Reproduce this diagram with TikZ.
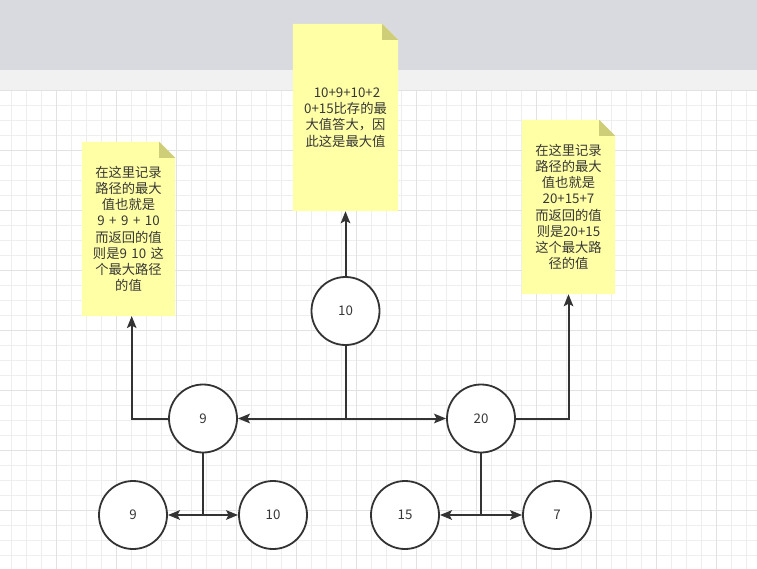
\documentclass[tikz,border=0pt]{standalone}
\usepackage{fontspec}
\newfontfamily\cjk{Noto Sans CJK SC}
\usetikzlibrary{arrows.meta,calc,backgrounds}
\definecolor{bandgray}{RGB}{217,218,223}
\definecolor{stripgray}{RGB}{241,241,241}
\definecolor{gridminor}{RGB}{238,238,238}
\definecolor{gridmajor}{RGB}{226,226,226}
\definecolor{notefill}{RGB}{255,255,166}
\definecolor{notefold}{RGB}{206,206,120}
\definecolor{ink}{RGB}{51,51,51}
\definecolor{txt}{RGB}{55,55,55}
\newcommand{\wsp}{\hspace{4.5pt}}
\tikzset{
  every node/.style={font=\cjk\fontsize{13.3}{16.2}\selectfont, text=txt},
  numcircle/.style={circle, draw=ink, line width=1.8pt, fill=white, minimum size=68pt, inner sep=0pt},
  notebox/.style={rectangle, draw=none, inner sep=0pt, align=center},
  arr/.style={draw=ink, line width=2pt, -{Stealth[length=12pt,width=9.5pt,inset=2.5pt]}},
  notebg/.style={fill=notefill},
  foldbg/.style={fill=notefold}
}
\newcommand{\notefill}[1]{%
  \fill[notebg] (#1.south west) -- (#1.north west) -- ($(#1.north east)+(-16,0)$) -- ($(#1.north east)+(0,16)$) -- (#1.south east) -- cycle;
  \fill[foldbg] ($(#1.north east)+(-16,0)$) -- ($(#1.north east)+(-16,16)$) -- ($(#1.north east)+(0,16)$) -- cycle;
}
\begin{document}
\begin{tikzpicture}[x=1pt,y=-1pt]
\useasboundingbox (0,0) rectangle (757,569);
\begin{scope}[on background layer]
  \fill[white] (0,0) rectangle (757,569);
  \fill[bandgray] (0,0) rectangle (757,70);
  \fill[stripgray] (0,70) rectangle (757,90);
  \foreach \i in {0,...,49} {
    \draw[gridminor, line width=0.8pt] ({11.7+15*\i},90) -- ({11.7+15*\i},569);
  }
  \foreach \i in {0,...,31} {
    \draw[gridminor, line width=0.8pt] (0,{105.7+15*\i}) -- (757,{105.7+15*\i});
  }
  \foreach \i in {0,...,12} {
    \draw[gridmajor, line width=0.8pt] ({-3.3+60*\i},90) -- ({-3.3+60*\i},569);
  }
  \foreach \i in {0,...,8} {
    \draw[gridmajor, line width=0.8pt] (0,{90.7+60*\i}) -- (757,{90.7+60*\i});
  }
\end{scope}

% notes
\node[notebox, minimum width=105pt, minimum height=187pt] (nM) at (345.5,117.5)
  {\hspace*{3pt}10+9+10+2\\0+15比存的最\\大值答大，因\\此这是最大值};
\node[notebox, minimum width=93pt, minimum height=174pt] (nL) at (128.5,229)
  {在这里记录\\路径的最大\\值也就是\\9\wsp{}+\wsp{}9\wsp{}+\wsp{}10\\而返回的值\\则是9\wsp{}10\wsp{}这\\个最大路径\\的值};
\node[notebox, minimum width=93pt, minimum height=174pt] (nR) at (568.5,207)
  {在这里记录\\路径的最大\\值也就是\\20+15+7\\而返回的值\\则是20+15\\这个最大路\\径的值};
\begin{scope}[on background layer]
  \notefill{nM}
  \notefill{nL}
  \notefill{nR}
\end{scope}

% circles
\node[numcircle] (c10) at (345.5,311) {10};
\node[numcircle] (c9) at (203,418.5) {9};
\node[numcircle] (c20) at (481,418.5) {20};
\node[numcircle] (b9) at (133,515) {9};
\node[numcircle] (b10) at (273,515) {10};
\node[numcircle] (b15) at (405,515) {15};
\node[numcircle] (b7) at (557,515) {7};

\coordinate (aL) at (131.7,316);

% connectors
\draw[arr] (c10.north) -- (c10.north |- nM.south);
\draw[arr] (c10.south) |- (c9.east);
\draw[arr] (c10.south) |- (c20.west);
\draw[arr] (c9.west) -| (aL);
\draw[arr] (c20.east) -| (nR.south);
\draw[arr] (c9.south) |- (b9.east);
\draw[arr] (c9.south) |- (b10.west);
\draw[arr] (c20.south) |- (b15.east);
\draw[arr] (c20.south) |- (b7.west);
\end{tikzpicture}
\end{document}
